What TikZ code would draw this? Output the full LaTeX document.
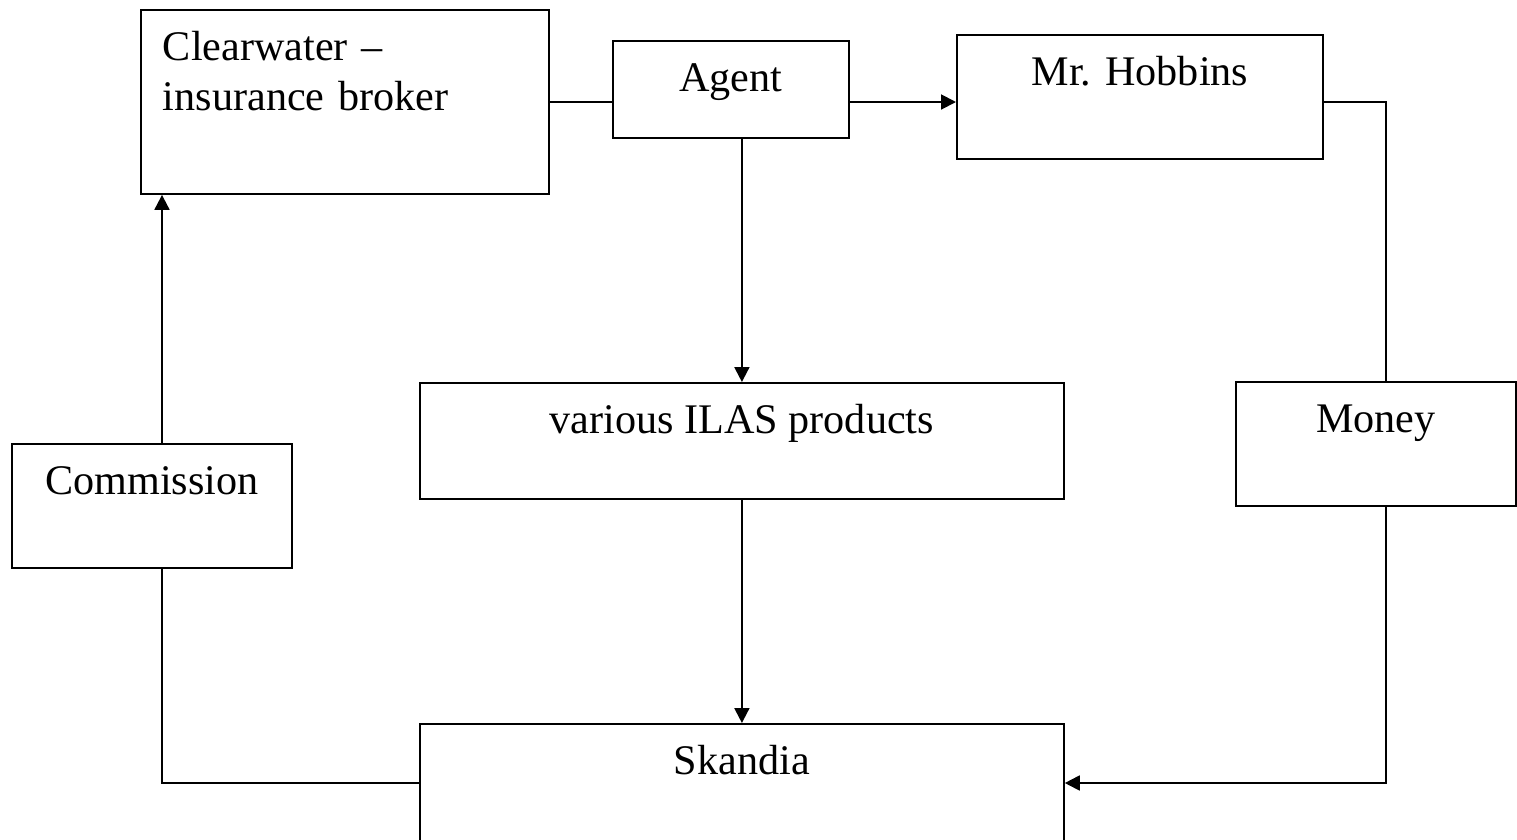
\documentclass[tikz,border=0pt]{standalone}
\usepackage{fontspec}
\setmainfont{Liberation Serif}
\usetikzlibrary{arrows.meta}
\tikzset{
    box node/.style={draw, line width=1.1pt, anchor=north west, inner sep=0pt, text height=1.02cm, font=\fontsize{24pt}{28.4pt}\selectfont},
    link/.style={line width=1.1pt},
    flow/.style={line width=1.1pt, -{Triangle[length=8.5pt, width=8.5pt]}},
}
\begin{document}
\begin{tikzpicture}[x=0.02cm, y=-0.02cm]
    \useasboundingbox (0,0) rectangle (1517,839);
    \node[box node, minimum width=8.16cm, text depth=2.66cm, text width=7.28cm, align=left] (clear) at (140,9) {Clearwater –\\insurance broker};
    \node[box node, minimum width=4.72cm, text depth=0.92cm] (agent) at (612,40) {Agent};
    \node[box node, minimum width=7.32cm, text depth=1.46cm] (hobbins) at (956,34) {Mr. Hobbins};
    \node[box node, minimum width=12.88cm, text depth=1.30cm] (ilas) at (419,382) {various ILAS products};
    \node[box node, minimum width=5.6cm, text depth=1.46cm] (commission) at (11,443) {Commission};
    \node[box node, minimum width=5.6cm, text depth=1.46cm] (money) at (1235,381) {Money};
    \node[box node, minimum width=12.88cm, text depth=1.38cm] (skandia) at (419,723) {Skandia};
    \coordinate (lft) at (162,783);
    \coordinate (rgt) at (1386,102);
    \draw[link] (clear.east) -- (clear.east -| agent.west);
    \draw[flow] (agent.east |- rgt) -- (hobbins.west |- rgt);
    \draw[link] (hobbins.east |- rgt) -- (rgt) -- (money.north -| rgt);
    \draw[flow] (money.south -| rgt) -- (rgt |- lft) -- (skandia.east |- lft);
    \draw[link] (skandia.west |- lft) -- (lft) -- (commission.south -| lft);
    \draw[flow] (commission.north -| lft) -- (clear.south -| lft);
    \draw[flow] (agent.south -| ilas.north) -- (ilas.north);
    \draw[flow] (ilas.south) -- (skandia.north);
\end{tikzpicture}
\end{document}
